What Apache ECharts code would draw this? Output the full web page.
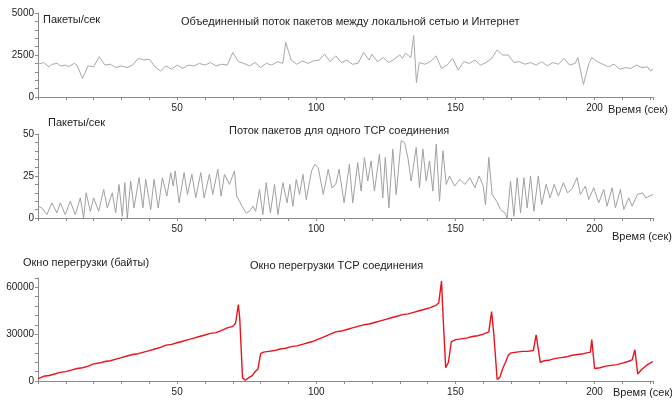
<!DOCTYPE html>
<html>
<head>
<meta charset="utf-8">
<script src="https://cdn.jsdelivr.net/npm/echarts@6/dist/echarts.min.js"></script>
<style>
  html, body { margin: 0; padding: 0; background: #fff; }
  #chart { width: 672px; height: 401px; }
</style>
</head>
<body>
<div id="chart"></div>
<script>
// общий поток пакетов (пакеты/сек)
const topTime = [0, 2, 4, 5, 7, 8, 10, 11, 13, 14, 16, 18, 20, 22, 24, 26, 28, 30, 32, 34, 36, 38, 40, 42, 44, 46, 48, 50,
    52, 54, 56, 58, 60, 62, 64, 66, 68, 70, 72, 74, 76, 78, 80, 82, 84, 86, 88, 89, 91, 93, 95, 97, 99, 101, 103, 105,
    107, 109, 111, 113, 115, 117, 119, 120, 122, 124, 126, 128, 130, 131, 132, 134, 135, 136, 137, 139, 141, 143, 145,
    147, 149, 151, 153, 155, 157, 159, 161, 163, 165, 167, 169, 171, 173, 175, 177, 179, 181, 183, 185, 187, 189, 191,
    193, 194, 196, 198, 199, 201, 203, 205, 207, 209, 211, 213, 215, 217, 219, 220, 221];
const topRate = [1950, 2050, 1800, 1950, 2000, 1850, 1900, 1800, 2000, 1900, 1100, 1850, 1800, 2400, 1900, 1950, 1750,
    1850, 1750, 1900, 2300, 2200, 2250, 1800, 1550, 1850, 1650, 1900, 1700, 1900, 1850, 2000, 1900, 2050, 1850, 1950,
    1900, 2650, 2100, 2000, 1850, 2050, 1750, 2000, 1900, 2100, 2000, 3250, 2200, 1950, 2150, 2000, 2150, 2200, 2550,
    2100, 2450, 2050, 2200, 1950, 2000, 2650, 2200, 2550, 2100, 2350, 2050, 2250, 2500, 2300, 2600, 2350, 3650, 850,
    2050, 1950, 2100, 2450, 1700, 1900, 2300, 1600, 2100, 2000, 2200, 1900, 2050, 2300, 2800, 2500, 2500, 2050, 2100,
    1950, 2050, 1900, 2100, 1850, 2050, 1950, 2300, 1900, 2000, 2350, 750, 2000, 2350, 2100, 1950, 1800, 1950, 1650,
    1750, 1700, 1900, 1750, 1800, 1550, 1650];

// поток одного TCP соединения (пакеты/сек)
const tcpTime = [0, 1.4, 3.2, 5, 6.8, 8, 9.8, 11.6, 13.4, 15.2, 16.4, 17.3, 18.8, 20, 21.8, 23.6, 24.9, 26.7, 27.9, 29.1,
    30.3, 31.2, 32.1, 33.3, 34.5, 36.3, 37.7, 38.7, 40.5, 41.7, 43.2, 44.7, 46.3, 47.7, 48.6, 49.3, 50.7, 52.5, 53.7,
    55.3, 56.7, 58.5, 59.7, 61.6, 62.8, 64.6, 65.8, 67, 68.8, 70.6, 71.4, 72.4, 73.3, 74.8, 76, 77.2, 78.2, 79.6, 80.8,
    82, 83.5, 85, 86.2, 88, 89.5, 90.5, 91.6, 92.8, 94, 95.2, 96.4, 98.3, 99.5, 100.7, 102.5, 104.3, 105.6, 107, 108.2,
    110, 111.9, 113.1, 114.9, 116.1, 117.3, 118.5, 119.7, 120.9, 122.7, 123.9, 124.8, 126.1, 127.5, 128.7, 130.5,
    131.7, 132.9, 134.1, 135.9, 137.1, 138.3, 139.5, 140.7, 141.9, 143.1, 144.3, 145.5, 146.7, 147.9, 149.7, 151.6,
    153.4, 155.2, 157, 158.5, 160, 160.8, 162, 163.2, 164.8, 166.2, 167.8, 168.6, 169.8, 171, 172.2, 173.4, 174.6,
    175.8, 177, 178.2, 179.8, 181, 182.6, 184, 185.5, 187, 188.8, 190.3, 191.8, 193.7, 194.9, 196.7, 197.9, 199.7,
    201.5, 203.3, 204.5, 206.3, 207.5, 209.3, 210.5, 212.3, 213.5, 215.4, 217.2, 218.4, 221];
const tcpRate = [7, 6, 2, 9, 3, 9, 2, 10, 2, 12, 0, 15, 4, 12, 4, 17, 6, 15, 3, 20, 1, 21, 0, 22, 6, 24, 6, 23, 5, 23, 6,
    24, 13, 27, 19, 28, 9, 27, 14, 26, 12, 27, 12, 26, 14, 29, 13, 26, 20, 28, 13, 10, 7, 3, 4, 7, 4, 17, 2, 21, 3, 20,
    2, 21, 9, 20, 7, 23, 14, 26, 11, 28, 32, 30, 14, 29, 18, 20, 29, 9, 32, 9, 33, 16, 36, 22, 34, 16, 38, 12, 36, 6,
    41, 14, 46, 45, 36, 22, 42, 18, 41, 22, 34, 16, 44, 10, 40, 20, 25, 19, 23, 20, 24, 18, 25, 19, 8, 36, 14, 10, 5,
    3, 0, 22, 1, 24, 3, 24, 6, 25, 4, 25, 8, 20, 12, 20, 13, 21, 15, 17, 24, 14, 19, 11, 18, 9, 17, 7, 18, 6, 17, 5,
    12, 7, 14, 15, 12, 14];

// окно перегрузки (байты)
const cwndTime = [0, 2, 4, 6, 8, 10, 12, 14, 16, 18, 20, 22, 24, 26, 28, 30, 32, 34, 36, 38, 40, 42, 44, 46, 48, 50, 52,
    54, 56, 58, 60, 62, 64, 66, 68, 70, 71, 72, 72.5, 73.5, 74.5, 76, 77, 78, 79, 80, 81, 83, 85, 87, 89, 91, 93, 95,
    97, 99, 101, 103, 105, 107, 109, 111, 113, 115, 117, 119, 121, 123, 125, 127, 129, 131, 133, 135, 137, 139, 141,
    143, 144, 145, 145.6, 146.5, 147.5, 148.5, 150, 152, 154, 156, 158, 160, 162, 163, 163.8, 165, 166, 167, 168, 169,
    170, 172, 174, 176, 178, 179, 180.5, 182, 184, 186, 188, 190, 192, 194, 196, 198.5, 199, 200, 202, 204, 206, 208,
    210, 212, 213.5, 214.5, 215.5, 217, 218, 219, 220, 221];
const cwndBytes = [1500, 3000, 3500, 4500, 5500, 6000, 7000, 8000, 8500, 9500, 11000, 11500, 12500, 13000, 14000, 15000,
    16000, 17000, 17500, 18500, 19500, 20500, 21500, 23000, 23500, 24500, 25500, 26500, 27500, 28500, 29500, 30500,
    31000, 32500, 34000, 35000, 37000, 49000, 40000, 2000, 500, 2500, 3500, 6000, 7500, 17500, 18500, 19000, 19500,
    20500, 21000, 22000, 22500, 23500, 24500, 25500, 27000, 28500, 30000, 31500, 32000, 33000, 34000, 35000, 36000,
    36500, 37500, 38500, 39500, 40500, 41500, 42500, 43000, 44000, 45000, 46000, 47000, 48500, 50000, 64000, 40000,
    8500, 12000, 25000, 26500, 27000, 27500, 28500, 29000, 30000, 31500, 44500, 30000, 1000, 2500, 8000, 12000, 16500,
    18000, 18500, 19000, 19000, 19500, 29500, 12000, 13000, 13500, 14500, 15000, 15500, 16500, 17000, 17500, 18500,
    26500, 8000, 8500, 9500, 10000, 10500, 11500, 12500, 13500, 20000, 4500, 7500, 9000, 10500, 11500, 12500];

const pairs = (xs, ys) => xs.map((x, i) => [x, ys[i]]);

const axisColor = '#8a8a8a';
const textColor = '#222';
const fontFamily = 'Liberation Sans, Arial, sans-serif';

// оси панели
const makeXAxis = (gridIndex) => ({
    type: 'value',
    gridIndex: gridIndex,
    min: 0,
    max: 221,
    interval: 10,
    splitLine: { show: false },
    axisLine: { show: true, lineStyle: { color: axisColor, width: 1 } },
    axisTick: { show: true, length: 3, lineStyle: { color: axisColor } },
    axisLabel: {
        color: textColor,
        fontSize: 10,
        fontFamily: fontFamily,
        margin: 6,
        formatter: (v) => (v > 0 && v % 50 === 0 ? String(v) : '')
    }
});

const makeYAxis = (gridIndex, max, interval, labelStep) => ({
    type: 'value',
    gridIndex: gridIndex,
    min: 0,
    max: max,
    interval: interval,
    splitLine: { show: false },
    axisLine: { show: true, lineStyle: { color: axisColor, width: 1 } },
    axisTick: { show: true, length: 3, lineStyle: { color: axisColor } },
    axisLabel: {
        color: textColor,
        fontSize: 10,
        fontFamily: fontFamily,
        margin: 4,
        formatter: (v) => (v % labelStep === 0 ? String(v) : '')
    }
});

const txt = (text, left, top) => ({
    text: text,
    left: left,
    top: top,
    padding: 0,
    textStyle: { fontSize: 11, fontWeight: 'normal', color: textColor, fontFamily: fontFamily }
});

const chart = echarts.init(document.getElementById('chart'), null, { renderer: 'canvas' });

chart.setOption({
    animation: false,
    backgroundColor: '#fff',
    title: [
        txt('Пакеты/сек', 43, 14),
        txt('Объединенный поток пакетов между локальной сетью и Интернет', 181, 16),
        txt('Время (сек)', 608, 104),
        txt('Пакеты/сек', 48, 117),
        txt('Поток пакетов для одного TCP соединения', 229, 125),
        txt('Время (сек)', 612, 231),
        txt('Окно перегрузки (байты)', 23, 257),
        txt('Окно перегрузки TCP соединения', 250, 260),
        txt('Время (сек)', 613, 387)
    ],
    grid: [
        { left: 38, top: 13, width: 615, height: 84, outerBoundsMode: 'none' },
        { left: 38, top: 134, width: 615, height: 84, outerBoundsMode: 'none' },
        { left: 38, top: 278, width: 615, height: 103, outerBoundsMode: 'none' }
    ],
    xAxis: [makeXAxis(0), makeXAxis(1), makeXAxis(2)],
    yAxis: [
        makeYAxis(0, 5000, 500, 2500),
        makeYAxis(1, 50, 5, 25),
        makeYAxis(2, 66000, 6000, 30000)
    ],
    series: [
        {
            type: 'line',
            xAxisIndex: 0,
            yAxisIndex: 0,
            showSymbol: false,
            data: pairs(topTime, topRate),
            lineStyle: { color: '#a8a8a8', width: 1 }
        },
        {
            type: 'line',
            xAxisIndex: 1,
            yAxisIndex: 1,
            showSymbol: false,
            data: pairs(tcpTime, tcpRate),
            lineStyle: { color: '#a0a0a0', width: 1 }
        },
        {
            type: 'line',
            xAxisIndex: 2,
            yAxisIndex: 2,
            showSymbol: false,
            data: pairs(cwndTime, cwndBytes),
            lineStyle: { color: '#e8141b', width: 1.4 }
        }
    ]
});
</script>
</body>
</html>
